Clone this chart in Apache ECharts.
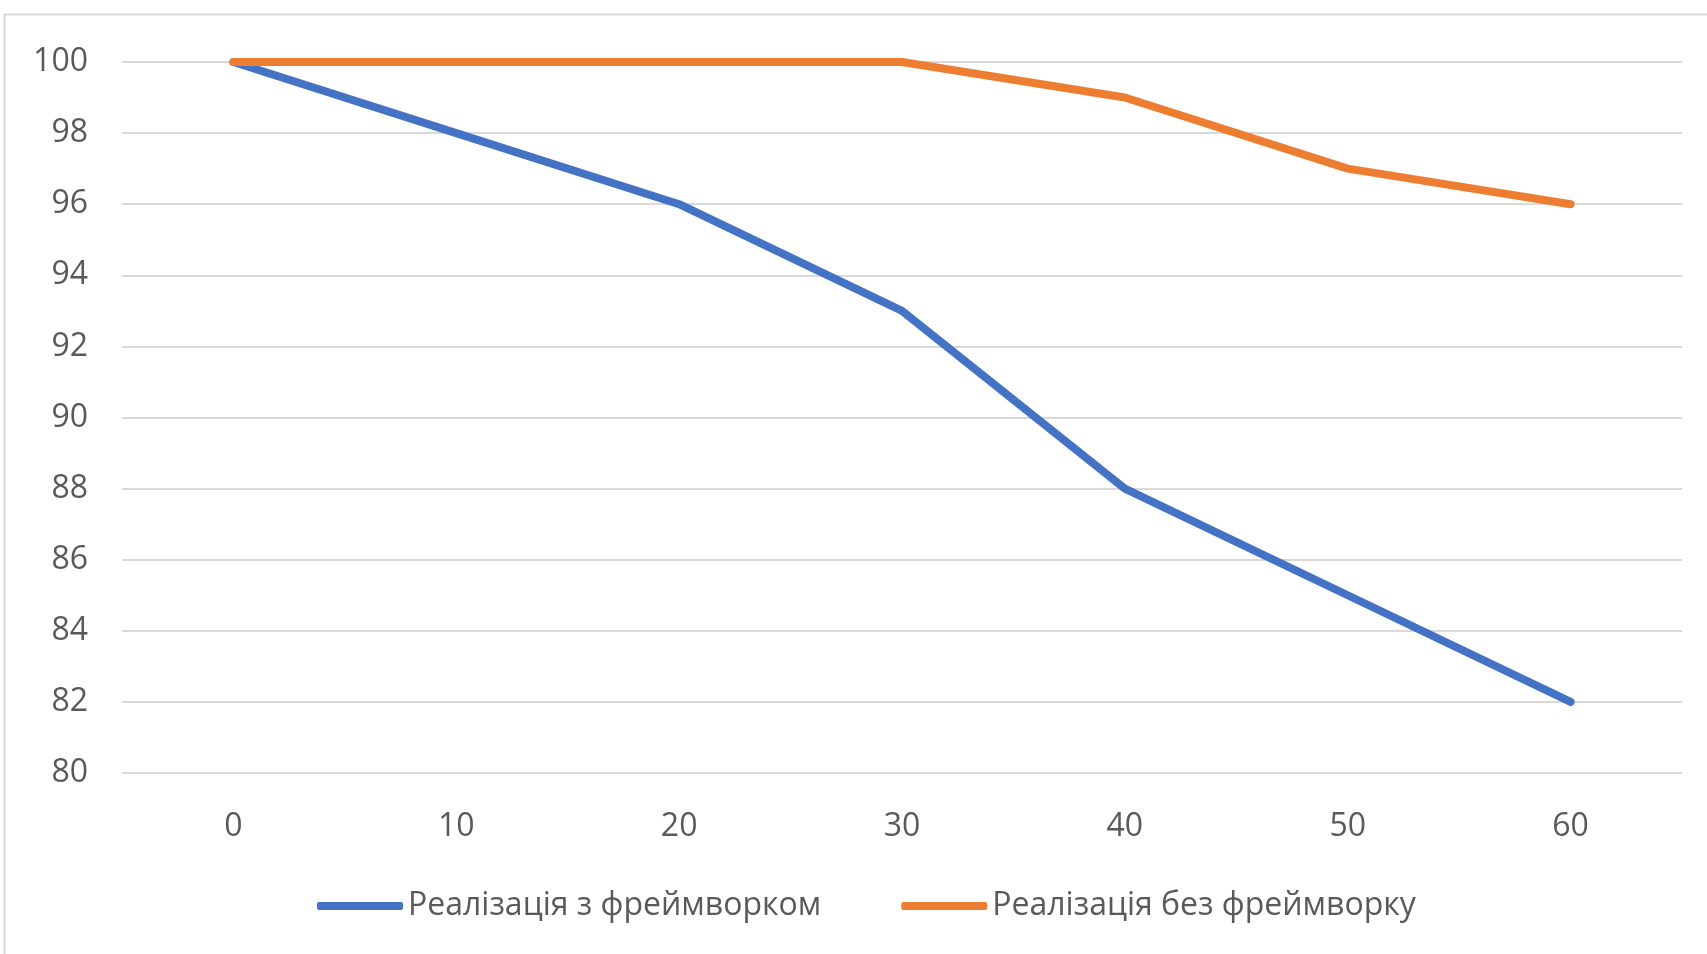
<!DOCTYPE html>
<html>
<head>
<meta charset="utf-8">
<style>
html,body{margin:0;padding:0;background:#fff;}
#chart{width:1707px;height:954px;}
</style>
<script src="https://cdn.jsdelivr.net/npm/echarts@6/dist/echarts.min.js"></script>
</head>
<body>
<div id="chart"></div>
<script>
const categories = ['0', '10', '20', '30', '40', '50', '60'];
const withFramework = [100, 98, 96, 93, 88, 85, 82];
const withoutFramework = [100, 100, 100, 100, 99, 97, 96];
const seriesNames = ['Реалізація з фреймворком', 'Реалізація без фреймворку'];
const yTicks = { min: 80, max: 100, interval: 2 };

const FONT = '"Open Sans", sans-serif';
const chart = echarts.init(document.getElementById('chart'));
chart.setOption({
  animation: false,
  backgroundColor: '#ffffff',
  graphic: [{
    type: 'rect', z: -10, silent: true,
    shape: { x: 4.5, y: 14.5, width: 3000, height: 3000 },
    style: { fill: 'none', stroke: '#d9d9d9', lineWidth: 2 }
  }],
  grid: { left: 122, right: 25, top: 62, bottom: 181, containLabel: false },
  legend: {
    bottom: 27, left: 312,
    itemWidth: 86, itemHeight: 8, itemGap: 80,
    icon: 'roundRect',
    textStyle: { fontFamily: FONT, fontSize: 32, color: '#595959' },
    data: seriesNames
  },
  xAxis: {
    type: 'category', data: categories, boundaryGap: true,
    axisLine: { show: false }, axisTick: { show: false },
    axisLabel: { fontFamily: FONT, fontSize: 32, color: '#595959', margin: 38 }
  },
  yAxis: {
    type: 'value', min: yTicks.min, max: yTicks.max, interval: yTicks.interval,
    axisLine: { show: false }, axisTick: { show: false },
    axisLabel: { fontFamily: FONT, fontSize: 32, color: '#595959', margin: 34 },
    splitLine: { lineStyle: { color: '#d9d9d9', width: 2 } }
  },
  series: [
    { name: seriesNames[0], type: 'line', data: withFramework, symbol: 'none',
      lineStyle: { color: '#4472C4', width: 8, cap: 'round', join: 'round' }, itemStyle: { color: '#4472C4' } },
    { name: seriesNames[1], type: 'line', data: withoutFramework, symbol: 'none',
      lineStyle: { color: '#ED7D31', width: 8, cap: 'round', join: 'round' }, itemStyle: { color: '#ED7D31' } }
  ]
});
</script>
</body>
</html>
